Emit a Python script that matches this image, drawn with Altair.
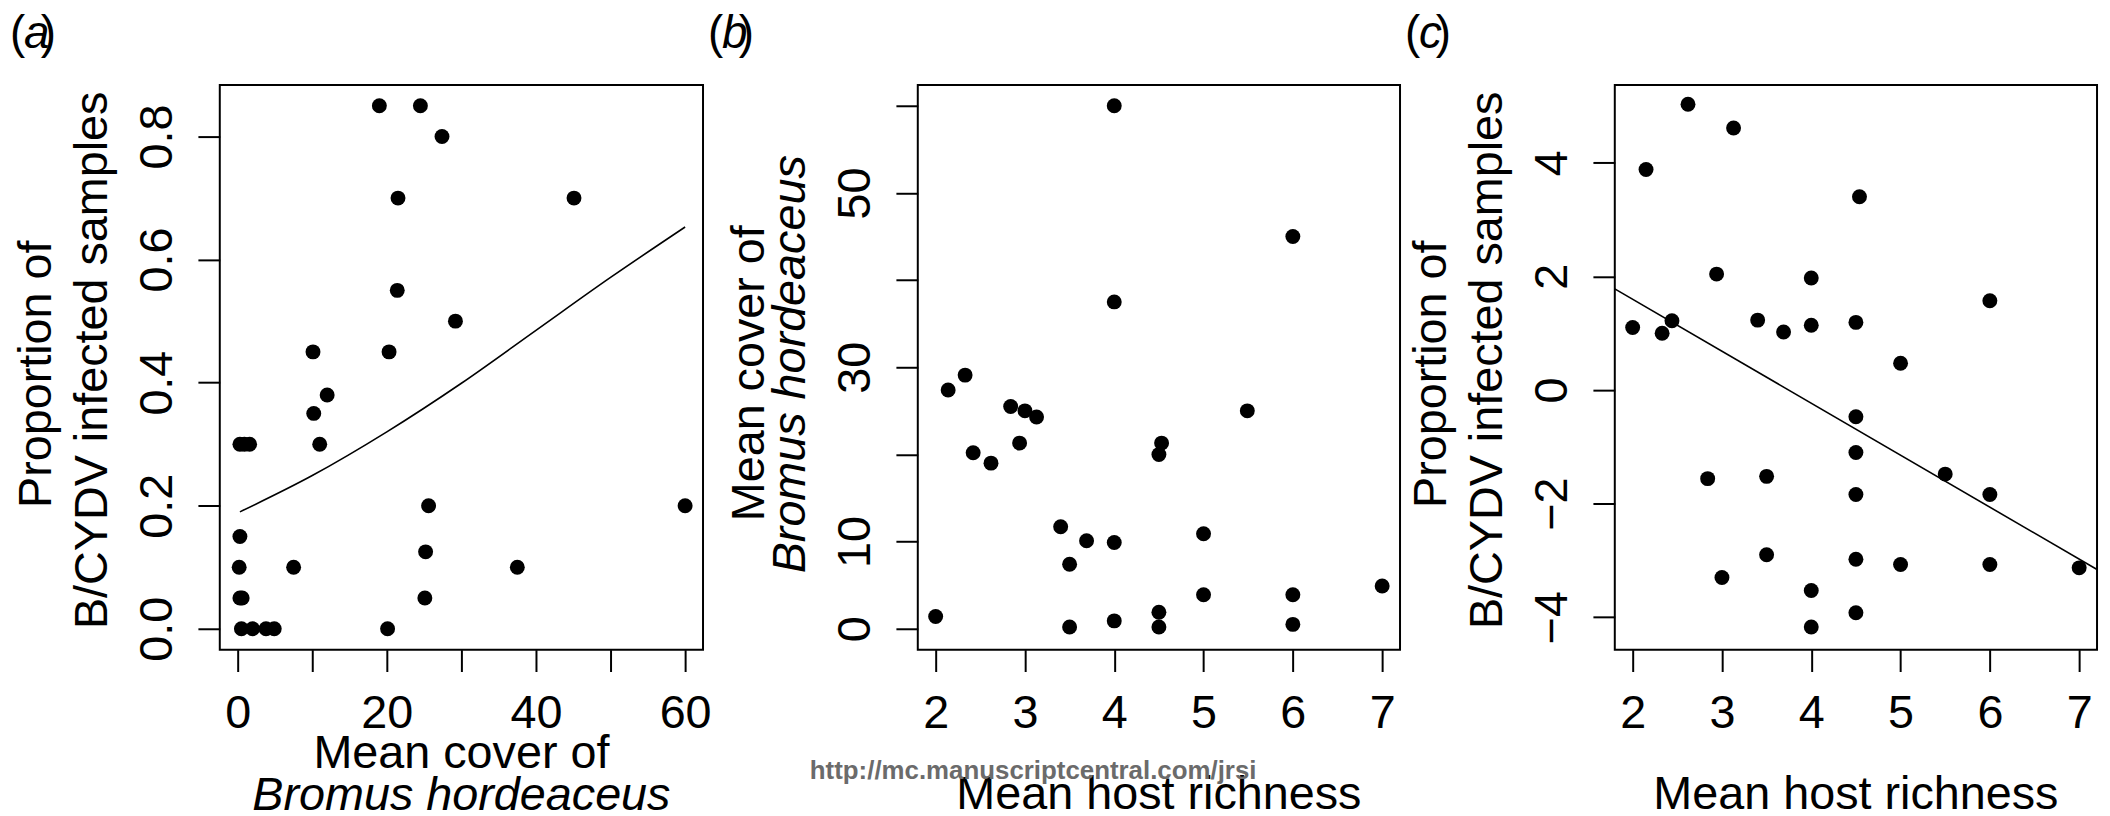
import altair as alt
import pandas as pd

# ---------------- data ----------------
# (a) mean cover of Bromus hordeaceus vs proportion infected
a_cover = [19.0, 24.5, 27.4, 21.5, 45.1, 21.4, 29.2, 10.1, 20.3, 12.0, 10.2, 11.0,
           0.3, 0.9, 1.6, 25.6, 60.0, 0.3, 25.2, 0.2, 7.5, 37.5, 0.3, 0.6, 25.1,
           0.5, 2.0, 3.8, 4.9, 20.1]
a_prop = [0.85, 0.85, 0.80, 0.70, 0.70, 0.55, 0.50, 0.45, 0.45, 0.38, 0.35, 0.30,
          0.30, 0.30, 0.30, 0.20, 0.20, 0.15, 0.125, 0.10, 0.10, 0.10, 0.05, 0.05, 0.05,
          0.0, 0.0, 0.0, 0.0, 0.0]
# fitted curve in (a)
a_fit_x = [0.3, 10, 20, 30, 40, 50, 60]
a_fit_y = [0.19, 0.249, 0.32, 0.399, 0.485, 0.571, 0.653]

# (b) mean host richness vs mean cover
b_rich = [4.0, 6.0, 4.0, 2.33, 2.14, 2.84, 3.0, 5.49, 3.13, 2.94, 4.53, 2.42, 4.5, 2.62,
          3.40, 5.0, 3.69, 4.0, 3.5, 5.0, 6.0, 7.0, 2.0, 4.0, 4.5, 4.5, 3.5, 6.0]
b_cover = [60.0, 45.0, 37.5, 29.1, 27.4, 25.5, 25.0, 25.0, 24.3, 21.3, 21.3, 20.2, 20.0, 19.0,
           11.7, 10.9, 10.1, 9.9, 7.4, 3.9, 3.9, 4.9, 1.4, 0.9, 1.9, 0.2, 0.2, 0.5]

# (c) mean host richness vs (residual) proportion infected
c_rich = [2.62, 3.13, 2.15, 4.54, 2.94, 4.0, 6.0, 2.0, 2.33, 2.44, 3.40, 3.69, 4.0, 4.5, 5.0,
          4.5, 4.5, 5.5, 2.84, 3.5, 4.5, 6.0, 3.5, 4.5, 5.0, 6.0, 7.0, 3.0, 4.0, 4.5, 4.0]
c_resid = [5.03, 4.61, 3.88, 3.40, 2.04, 1.97, 1.57, 1.10, 1.00, 1.22, 1.23, 1.02, 1.14, 1.19, 0.47,
           -0.47, -1.10, -1.48, -1.56, -1.52, -1.84, -1.84, -2.90, -2.98, -3.07, -3.07, -3.13,
           -3.30, -3.53, -3.92, -4.17]
# regression line in (c), read at the plot edges
c_fit_x = [1.8, 7.2]
c_fit_y = [1.78, -3.16]

# tick values
a_xticks = [0, 10, 20, 30, 40, 50, 60]
a_xlabels = [0, 20, 40, 60]
a_yticks = [0, 0.2, 0.4, 0.6, 0.8]
b_xticks = [2, 3, 4, 5, 6, 7]
b_yticks = [0, 10, 20, 30, 40, 50, 60]
b_ylabels = [0, 10, 30, 50]
c_yticks = [-4, -2, 0, 2, 4]

FONT = "Liberation Sans"
FS = 47
one = alt.Data(values=[{"k": 0}])


def xaxis(values, shown=None):
    kw = dict(values=values, title=None, domain=False, grid=False, ticks=True,
              tickSize=22, tickWidth=2, tickColor="black", labelFont=FONT,
              labelFontSize=FS, labelColor="black", labelPadding=19,
              labelFlush=False, labelOverlap=False, labelBound=False)
    if shown is not None:
        kw["labelExpr"] = "indexof(%s, datum.value) >= 0 ? datum.label : ''" % str(shown)
    return alt.Axis(**kw)


def yaxis(values, shown=None, fmt=None):
    kw = dict(values=values, title=None, domain=False, grid=False, ticks=True,
              tickSize=22, tickWidth=2, tickColor="black", labelFont=FONT,
              labelFontSize=FS, labelColor="black", labelPadding=27,
              labelAngle=270, labelAlign="center", labelBaseline="alphabetic",
              labelFlush=False, labelOverlap=False, labelBound=False)
    if fmt:
        kw["format"] = fmt
    if shown is not None:
        kw["labelExpr"] = "indexof(%s, datum.value) >= 0 ? datum.label : ''" % str(shown)
    return alt.Axis(**kw)


def txt(s, x, y, size=FS, angle=0, italic=False, align="center",
        color="black", font=FONT, weight="normal"):
    kw = dict(text=s, fontSize=size, font=font, align=align, baseline="alphabetic",
              color=color, fontWeight=weight)
    if angle:
        kw["angle"] = angle
    if italic:
        kw["fontStyle"] = "italic"
    return alt.Chart(one).mark_text(**kw).encode(x=alt.value(x), y=alt.value(y))


def panel_label(letter):
    return [txt("(", -211, -37, size=46, align="left"),
            txt(letter, -197, -37, size=46, align="left", italic=True),
            txt(")", -180, -37, size=46, align="left")]


# ---------------- panel (a) ----------------
WA, H = 486, 568
ax = alt.X("x:Q", scale=alt.Scale(domain=[-2.4, 62.4], nice=False, zero=False),
           axis=xaxis(a_xticks, a_xlabels))
ay = alt.Y("y:Q", scale=alt.Scale(domain=[-0.034, 0.884], nice=False, zero=False),
           axis=yaxis(a_yticks, fmt=".1f"))
a_pts = alt.Chart(pd.DataFrame({"x": a_cover, "y": a_prop})).mark_circle(
    size=225, color="black", opacity=1).encode(x=ax, y=ay)
a_line = alt.Chart(pd.DataFrame({"x": a_fit_x, "y": a_fit_y})).mark_line(
    color="black", strokeWidth=1.6, interpolate="monotone").encode(x=ax, y=ay)
anchor = alt.Chart(one).mark_rect(opacity=0).encode(
    x=alt.value(-212), x2=alt.value(-200), y=alt.value(-74), y2=alt.value(-60))
panel_a = alt.layer(
    anchor, a_line, a_pts,
    txt("Proportion of", -170, 291, angle=270),
    txt("B/CYDV infected samples", -113, 277, angle=270),
    txt("Mean cover of", WA / 2, 687),
    txt("Bromus hordeaceus", WA / 2, 729, italic=True),
    *panel_label("a"),
).properties(width=WA, height=H)

# ---------------- panel (b) ----------------
WB = 485
bx = alt.X("x:Q", scale=alt.Scale(domain=[1.8, 7.2], nice=False, zero=False),
           axis=xaxis(b_xticks))
by = alt.Y("y:Q", scale=alt.Scale(domain=[-2.4, 62.4], nice=False, zero=False),
           axis=yaxis(b_yticks, b_ylabels))
b_pts = alt.Chart(pd.DataFrame({"x": b_rich, "y": b_cover})).mark_circle(
    size=225, color="black", opacity=1).encode(x=bx, y=by)
panel_b = alt.layer(
    b_pts,
    txt("Mean cover of", -155, 290, angle=270),
    txt("Bromus hordeaceus", -113, 281, angle=270, italic=True),
    txt("Mean host richness", WB / 2, 728),
    txt("http://mc.manuscriptcentral.com/jrsi", 116, 698, size=26,
        font="Liberation Sans", weight="bold", color="#6b6b6b"),
    *panel_label("b"),
).properties(width=WB, height=H)

# ---------------- panel (c) ----------------
WC = 485
cx = alt.X("x:Q", scale=alt.Scale(domain=[1.8, 7.2], nice=False, zero=False),
           axis=xaxis(b_xticks))
cy = alt.Y("y:Q", scale=alt.Scale(domain=[-4.57, 5.37], nice=False, zero=False),
           axis=yaxis(c_yticks))
c_pts = alt.Chart(pd.DataFrame({"x": c_rich, "y": c_resid})).mark_circle(
    size=225, color="black", opacity=1).encode(x=cx, y=cy)
c_line = alt.Chart(pd.DataFrame({"x": c_fit_x, "y": c_fit_y})).mark_line(
    color="black", strokeWidth=1.6).encode(x=cx, y=cy)
panel_c = alt.layer(
    c_line, c_pts,
    txt("Proportion of", -170, 291, angle=270),
    txt("B/CYDV infected samples", -113, 277, angle=270),
    txt("Mean host richness", WC / 2, 728),
    *panel_label("c"),
).properties(width=WC, height=H)

chart = alt.hconcat(panel_a, panel_b, panel_c, spacing=216, bounds="flush",
                    padding=0, background="white").configure_view(
    stroke="black", strokeWidth=2)

chart.save("out.html", embed_options={"renderer": "svg", "actions": False})
